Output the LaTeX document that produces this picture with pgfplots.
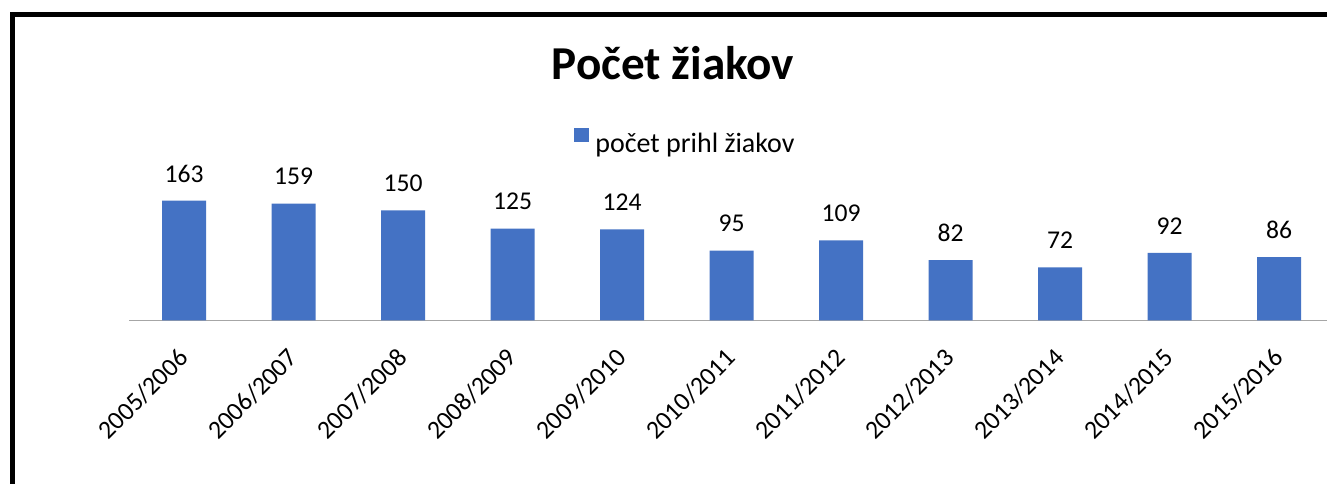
\documentclass[border=0pt]{standalone}
\usepackage{pgfplots}
\pgfplotsset{compat=1.18}
\usepackage{fontspec}
\setmainfont{Carlito}
\definecolor{barblue}{RGB}{68,114,196}
\definecolor{axisgray}{RGB}{166,166,166}

\begin{document}
\begin{tikzpicture}[x=1pt,y=1pt]
% 1 px of the reference = 0.5pt
\clip (0,0) rectangle (663.5,241.5);
\fill[white] (0,0) rectangle (663.5,241.5);
\begin{axis}[
    at={(64.65pt,81.35pt)}, anchor=south west,
    scale only axis,
    width=602.25pt, height=66.03pt,
    ybar, bar width=22pt,
    xmin=-0.5, xmax=10.5, ymin=0, ymax=180,
    enlargelimits=false,
    clip=false,
    axis x line=bottom, axis y line=none,
    x axis line style={-, draw=axisgray, line width=0.6pt},
    xtick={0,...,10},
    xticklabels={2005/2006, 2006/2007, 2007/2008, 2008/2009, 2009/2010,
        2010/2011, 2011/2012, 2012/2013, 2013/2014, 2014/2015, 2015/2016},
    major tick length=0pt,
    xticklabel style={rotate=45, anchor=east, inner sep=0pt,
        font=\fontsize{12.9}{15}\selectfont},
    xticklabel shift=16.5pt,
    ytick=\empty,
    nodes near coords,
    nodes near coords style={anchor=base, yshift=9.35pt, inner sep=0pt,
        font=\fontsize{12.8}{15}\selectfont},
    /pgf/number format/assume math mode=true,
    legend style={draw=none, fill=none, inner sep=0pt,
        at={(0.4609,1.355)}, anchor=center,
        font=\fontsize{14}{16}\selectfont,
        nodes={inner sep=0pt}},
    legend image code/.code={
        \fill[barblue] (0pt,0.9pt) rectangle (7.5pt,8.2pt);
        \path (10.5pt,0.9pt);},
]
\addplot[fill=barblue, draw=none] coordinates {
    (0,163) (1,159) (2,150) (3,125) (4,124) (5,95)
    (6,109) (7,82) (8,72) (9,92) (10,86)
};
\legend{počet prihl žiakov}
\end{axis}
\node[anchor=base, inner sep=0pt, font=\bfseries\fontsize{23.6}{27}\selectfont]
    at (336.5,201.5) {Počet žiakov};
\draw[line width=2.3pt, miter limit=10] (6.25,-5) -- (6.25,234.25) -- (680,234.25);
\end{tikzpicture}
\end{document}
